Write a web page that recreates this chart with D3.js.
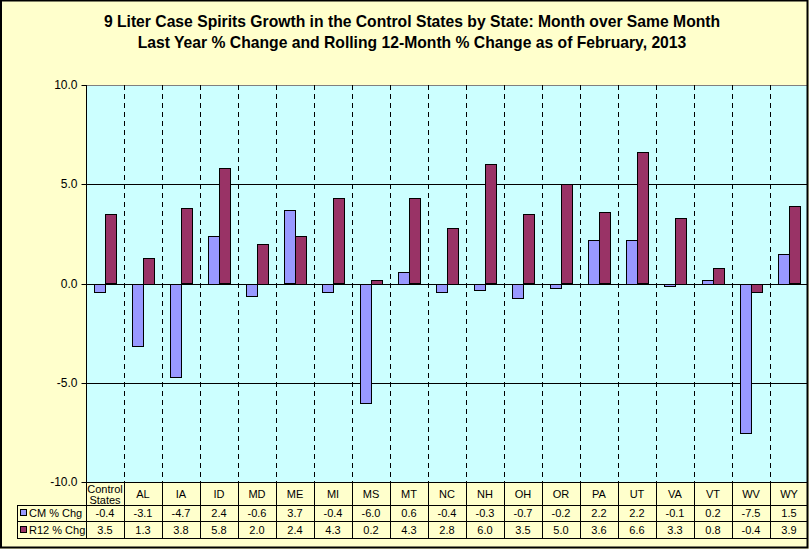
<!DOCTYPE html>
<html><head><meta charset="utf-8">
<script src="https://cdn.jsdelivr.net/npm/d3@7"></script>
<style>body{margin:0;background:#fff}svg{display:block}</style>
</head><body>
<svg id="c" width="809" height="549"></svg>
<script>
const categories = ["Control States","AL","IA","ID","MD","ME","MI","MS","MT","NC","NH","OH","OR","PA","UT","VA","VT","WV","WY"];
const cmChg  = [-0.4,-3.1,-4.7,2.4,-0.6,3.7,-0.4,-6.0,0.6,-0.4,-0.3,-0.7,-0.2,2.2,2.2,-0.1,0.2,-7.5,1.5];
const r12Chg = [3.5,1.3,3.8,5.8,2.0,2.4,4.3,0.2,4.3,2.8,6.0,3.5,5.0,3.6,6.6,3.3,0.8,-0.4,3.9];
const seriesNames = ["CM % Chg","R12 % Chg"];
const yTicks = [10,5,0,-5,-10];
const title = ["9 Liter Case Spirits Growth in the Control States by State: Month over Same Month",
               "Last Year % Change and Rolling 12-Month % Change as of February, 2013"];

const colors = ["#9999FF","#993366"];
const font = "Liberation Sans, Arial, sans-serif";
const fmt = d => d.toFixed(1);
const svg = d3.select("#c");
const W = 809, H = 549;
const L = 86, R = 808, T = 85, B = 482;

svg.append("rect").attr("x",0).attr("y",0).attr("width",W).attr("height",H).attr("fill","#FFFFCC");

// title
svg.append("g").selectAll("text").data(title).join("text")
  .attr("x",412).attr("y",(d,i)=>27+i*21).attr("text-anchor","middle")
  .attr("font-family",font).attr("font-weight","bold").attr("font-size",15.7).attr("fill","#000").text(d=>d);

const x = d3.scaleBand().domain(categories).range([L, R]).paddingInner(0).paddingOuter(0);
const y = d3.scaleLinear().domain([-10,10]).range([B, T]);
const bw = x.bandwidth();
const sub = d3.scaleBand().domain([0,1]).range([0,bw]).paddingInner(0).paddingOuter(0.667);

// plot area
svg.append("rect").attr("x",L).attr("y",T).attr("width",R-L).attr("height",B-T).attr("fill","#CCFFFF");
svg.append("line").attr("x1",L).attr("x2",R).attr("y1",T+0.5).attr("y2",T+0.5).attr("stroke","#808080");

// gridlines
svg.append("g").selectAll("line").data(yTicks.filter(t=>t>-10 && t<10)).join("line")
  .attr("x1",L).attr("x2",R).attr("y1",d=>Math.round(y(d))+0.5).attr("y2",d=>Math.round(y(d))+0.5)
  .attr("stroke","#000").attr("stroke-width",1);

// vertical dashed dividers
svg.append("g").selectAll("line").data(categories.slice(1)).join("line")
  .attr("x1",d=>Math.round(x(d))+0.5).attr("x2",d=>Math.round(x(d))+0.5).attr("y1",T).attr("y2",B)
  .attr("stroke","#000").attr("stroke-dasharray","5,4");

// bars
const series = [cmChg, r12Chg];
series.forEach((vals,si)=>{
  svg.append("g").selectAll("rect").data(vals).join("rect")
    .attr("x",(d,i)=>Math.round(x(categories[i])+sub(si))+0.5)
    .attr("width",Math.round(sub.bandwidth()))
    .attr("y",d=>Math.round(y(Math.max(0,d)))+0.5)
    .attr("height",d=>Math.round(Math.abs(y(d)-y(0))))
    .attr("fill",colors[si]).attr("stroke","#000").attr("stroke-width",1);
});

// y axis
const yAxis = d3.axisLeft(y).tickValues(yTicks).tickFormat(fmt).tickSize(5).tickPadding(4);
const ag = svg.append("g").attr("transform",`translate(${L+0.5},0)`).call(yAxis);
ag.select(".domain").remove();
ag.selectAll(".tick line").attr("stroke","#000");
ag.selectAll(".tick text").attr("font-family",font).attr("font-size",12).attr("fill","#000");
ag.selectAll(".tick").attr("transform",d=>`translate(0,${Math.round(y(d))+0.5})`);
svg.append("line").attr("x1",L+0.5).attr("x2",L+0.5).attr("y1",T).attr("y2",538).attr("stroke","#000");

// data table
const rows = [505, 521], rowBot = 538.5;
const tg = svg.append("g");
tg.append("line").attr("x1",L).attr("x2",R).attr("y1",482.5).attr("y2",482.5).attr("stroke","#000");
rows.forEach(v=>tg.append("line").attr("x1",17).attr("x2",R).attr("y1",v+0.5).attr("y2",v+0.5).attr("stroke","#000"));
tg.append("line").attr("x1",17).attr("x2",R).attr("y1",rowBot).attr("y2",rowBot).attr("stroke","#000");
tg.append("line").attr("x1",17.5).attr("x2",17.5).attr("y1",505).attr("y2",rowBot).attr("stroke","#000");
tg.selectAll("line.v").data(categories.slice(1)).join("line").attr("class","v")
  .attr("x1",d=>Math.round(x(d))+0.5).attr("x2",d=>Math.round(x(d))+0.5).attr("y1",482).attr("y2",rowBot)
  .attr("stroke","#000");

// header labels
categories.forEach(c=>{
  const cx = x(c)+bw/2;
  const words = c.split(" ");
  if (words.length>1){
    words.forEach((w,i)=>tg.append("text").attr("x",cx).attr("y",492.5+i*11.5).attr("text-anchor","middle")
      .attr("font-family",font).attr("font-size",11).text(w));
  } else {
    tg.append("text").attr("x",cx).attr("y",497.5).attr("text-anchor","middle")
      .attr("font-family",font).attr("font-size",11).text(c);
  }
});
// values
series.forEach((vals,si)=>{
  const by = 517 + si*16.5;
  tg.selectAll(null).data(vals).join("text")
    .attr("x",(d,i)=>x(categories[i])+bw/2).attr("y",by).attr("text-anchor","middle")
    .attr("font-family",font).attr("font-size",11).text(fmt);
  tg.append("rect").attr("x",20.5).attr("y",Math.round(by-8)+0.5).attr("width",6).attr("height",6)
    .attr("fill",colors[si]).attr("stroke","#000").attr("stroke-width",1);
  tg.append("text").attr("x",29).attr("y",by).attr("font-family",font).attr("font-size",11)
    .text(seriesNames[si]);
});

// outer frame
svg.append("rect").attr("x",1).attr("y",0.5).attr("width",W-2.5).attr("height",H-2).attr("fill","none")
  .attr("stroke","#000").attr("stroke-width",2);
</script>
</body></html>
